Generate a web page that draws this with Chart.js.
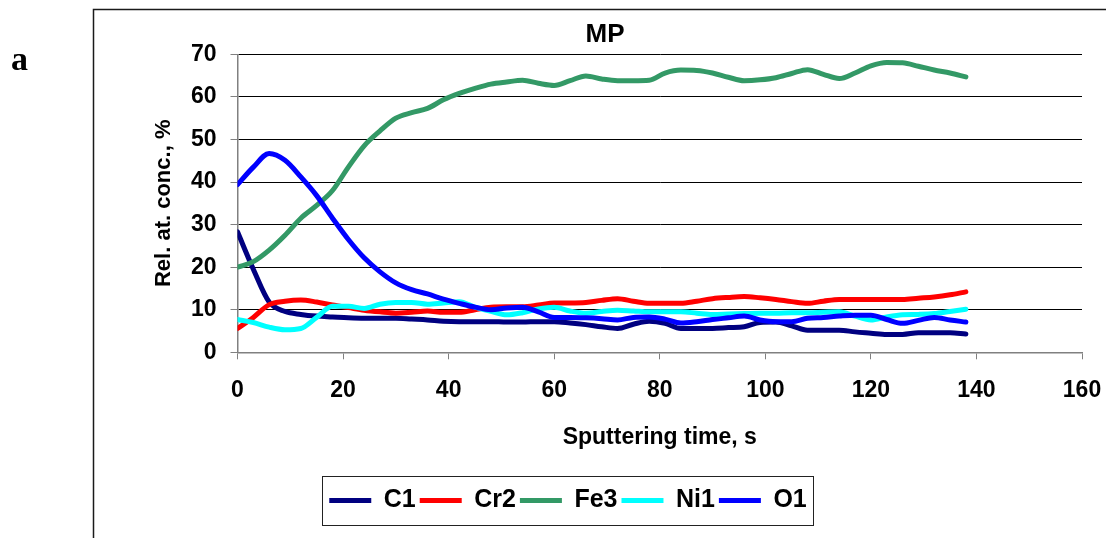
<!DOCTYPE html>
<html lang="en">
<head>
  <meta charset="UTF-8">
  <title>MP</title>
  <script src="https://cdn.jsdelivr.net/npm/chart.js"></script>
  <style>
    body {
      margin: 0;
      background: #fff;
    }
    canvas {
      display: block;
    }
  </style>
</head>
<body>
  <canvas id="mpChart" width="1106" height="538"></canvas>

  <script>
    // sputtering time, s
    var times = [0, 3, 6, 9, 12, 15, 18, 21, 24, 27, 30, 33, 36, 39, 42, 45, 48, 51, 54, 57,
      60, 63, 66, 69, 72, 75, 78, 81, 84, 87, 90, 93, 96, 99, 102, 105, 108, 111, 114, 117,
      120, 123, 126, 129, 132, 135, 138];

    var c1 = [28.3, 19.5, 11.8, 9.6, 8.9, 8.5, 8.3, 8.1, 8.0, 8.0, 8.0, 7.8, 7.6, 7.3, 7.2, 7.2, 7.2, 7.1, 7.1, 7.2,
      7.2, 6.9, 6.5, 6.0, 5.6, 6.6, 7.3, 6.8, 5.6, 5.6, 5.6, 5.8, 6.0, 7.0, 7.1, 6.2, 5.2, 5.2, 5.2, 4.8,
      4.5, 4.2, 4.2, 4.6, 4.6, 4.6, 4.3];
    var cr2 = [5.6, 8.2, 11.2, 12.0, 12.3, 11.8, 11.1, 10.5, 9.9, 9.5, 9.2, 9.4, 9.7, 9.4, 9.4, 10.0, 10.6, 10.7, 10.7, 11.1,
      11.6, 11.6, 11.7, 12.2, 12.6, 12.0, 11.5, 11.5, 11.5, 12.0, 12.6, 12.9, 13.1, 12.8, 12.4, 11.9, 11.5, 12.0, 12.4, 12.4,
      12.4, 12.4, 12.4, 12.7, 13.0, 13.5, 14.2];
    var fe3 = [20.0, 21.3, 24.0, 27.5, 31.5, 34.5, 38.0, 43.5, 48.5, 52.0, 55.0, 56.3, 57.3, 59.3, 60.8, 62.0, 63.0, 63.5, 63.9, 63.2,
      62.7, 63.8, 64.9, 64.2, 63.8, 63.8, 63.9, 65.6, 66.3, 66.2, 65.6, 64.6, 63.8, 64.0, 64.5, 65.5, 66.4, 65.3, 64.3, 65.6,
      67.3, 68.1, 68.0, 67.2, 66.3, 65.6, 64.7];
    var ni1 = [7.7, 7.0, 5.9, 5.3, 5.6, 8.2, 10.8, 10.8, 10.3, 11.3, 11.7, 11.7, 11.3, 11.6, 11.9, 10.6, 9.6, 8.8, 9.3, 10.2,
      10.6, 9.7, 9.2, 9.6, 9.9, 9.7, 9.5, 9.5, 9.5, 9.2, 8.9, 9.0, 9.1, 9.2, 9.2, 9.3, 9.3, 9.4, 9.5, 8.5,
      7.6, 8.3, 8.8, 8.9, 9.1, 9.6, 10.1];
    var o1 = [39.4, 43.5, 46.7, 45.1, 41.2, 36.8, 31.5, 26.5, 22.2, 18.9, 16.3, 14.7, 13.7, 12.5, 11.5, 10.6, 10.0, 10.4, 10.6, 9.5,
      8.2, 8.2, 8.1, 7.9, 7.6, 8.2, 8.3, 7.8, 6.9, 7.2, 7.7, 8.1, 8.5, 7.6, 7.2, 7.2, 8.0, 8.2, 8.5, 8.7,
      8.7, 7.7, 6.8, 7.5, 8.2, 7.6, 7.1];

    var seriesNames = ['C1', 'Cr2', 'Fe3', 'Ni1', 'O1'];
    var seriesValues = [c1, cr2, fe3, ni1, o1];
    var seriesColors = ['#000080', '#FF0000', '#339966', '#00FFFF', '#0000FF'];

    var yTicks = [0, 10, 20, 30, 40, 50, 60, 70];
    var xTicks = [0, 20, 40, 60, 80, 100, 120, 140, 160];

    var FONT = 'Liberation Sans, Arial, sans-serif';

    var datasets = seriesNames.map(function (name, i) {
      return {
        label: name,
        data: times.map(function (t, k) { return { x: t, y: seriesValues[i][k] }; }),
        borderColor: seriesColors[i],
        backgroundColor: seriesColors[i],
        borderWidth: 5,
        borderCapStyle: 'round',
        borderJoinStyle: 'round',
        pointRadius: 0,
        pointHoverRadius: 0,
        cubicInterpolationMode: 'monotone',
        fill: false,
        order: seriesNames.length - 1 - i // last series on top, like the original
      };
    });

    // frame, panel letter and the box around the legend
    var decorations = {
      id: 'decorations',
      afterLayout: function (chart) {
        // move title and legend to where they sit in the figure
        var t = chart.titleBlock;
        var tw = t.right - t.left;
        t.left = 605 - tw / 2;
        t.right = 605 + tw / 2;
        var lg = chart.legend;
        var lw = lg.right - lg.left;
        lg.left = 568 - lw / 2;
        lg.right = 568 + lw / 2;
      },
      beforeDraw: function (chart) {
        var ctx = chart.ctx;
        ctx.save();
        ctx.strokeStyle = '#1a1a1a';
        ctx.lineWidth = 1.5;
        ctx.beginPath();
        ctx.moveTo(93.5, 538);
        ctx.lineTo(93.5, 9.5);
        ctx.lineTo(1106, 9.5);
        ctx.stroke();

        ctx.fillStyle = '#000';
        ctx.font = 'bold 34px "Liberation Serif", "Times New Roman", serif';
        ctx.textBaseline = 'alphabetic';
        ctx.fillText('a', 11, 70);
        ctx.restore();
      },
      afterDraw: function (chart) {
        var boxes = chart.legend.legendHitBoxes;
        if (!boxes || !boxes.length) return;
        var first = boxes[0];
        var last = boxes[boxes.length - 1];
        var cy = first.top + first.height / 2;
        var ctx = chart.ctx;
        ctx.save();
        ctx.strokeStyle = '#222';
        ctx.lineWidth = 1;
        ctx.strokeRect(Math.round(first.left - 7) + 0.5, Math.round(cy - 24.5) + 0.5,
          Math.round(last.left + last.width - first.left + 14), 49);
        ctx.restore();
      }
    };

    var ctx = document.getElementById('mpChart').getContext('2d');
    var chart = new Chart(ctx, {
      type: 'line',
      data: { datasets: datasets },
      plugins: [decorations],
      options: {
        responsive: false,
        animation: false,
        events: [],
        layout: {
          padding: { left: 93, right: 24, top: 0, bottom: 15 }
        },
        plugins: {
          title: {
            display: true,
            text: 'MP',
            color: '#000',
            font: { family: FONT, size: 26, weight: 'bold' },
            padding: { top: 18.9, bottom: 4.2 }
          },
          legend: {
            position: 'bottom',
            labels: {
              color: '#000',
              font: { family: FONT, size: 25, weight: 'bold' },
              usePointStyle: true,
              pointStyle: 'line',
              pointStyleWidth: 42,
              padding: 4,
              sort: function (a, b) { return a.datasetIndex - b.datasetIndex; }
            }
          },
          tooltip: { enabled: false }
        },
        scales: {
          x: {
            type: 'linear',
            min: 0,
            max: 160,
            afterBuildTicks: function (scale) {
              scale.ticks = xTicks.map(function (v) { return { value: v }; });
            },
            afterFit: function (scale) {
              scale.height = 131.7;
              scale.paddingLeft = 0;
              scale.paddingRight = 0;
            },
            ticks: {
              color: '#000',
              font: { family: FONT, size: 23, weight: 'bold' },
              padding: 18,
              maxRotation: 0
            },
            grid: {
              drawOnChartArea: false,
              drawTicks: true,
              tickLength: 7,
              tickColor: '#808080'
            },
            border: { color: '#808080', width: 1.5 },
            title: {
              display: true,
              text: 'Sputtering time, s',
              color: '#000',
              font: { family: FONT, size: 23, weight: 'bold' },
              padding: { top: 0, bottom: 33 }
            }
          },
          y: {
            min: 0,
            max: 70,
            afterBuildTicks: function (scale) {
              scale.ticks = yTicks.map(function (v) { return { value: v }; });
            },
            afterFit: function (scale) { scale.width = 144.5; },
            ticks: {
              color: '#000',
              font: { family: FONT, size: 23, weight: 'bold' },
              padding: 14
            },
            grid: {
              color: '#000',
              lineWidth: 1,
              drawTicks: true,
              tickLength: 7,
              tickColor: '#808080'
            },
            border: { color: '#808080', width: 1.5 },
            title: {
              display: true,
              text: 'Rel. at. conc., %',
              color: '#000',
              font: { family: FONT, size: 22, weight: 'bold' },
              padding: { top: 58, bottom: 0 }
            }
          }
        }
      }
    });
  </script>
</body>
</html>
